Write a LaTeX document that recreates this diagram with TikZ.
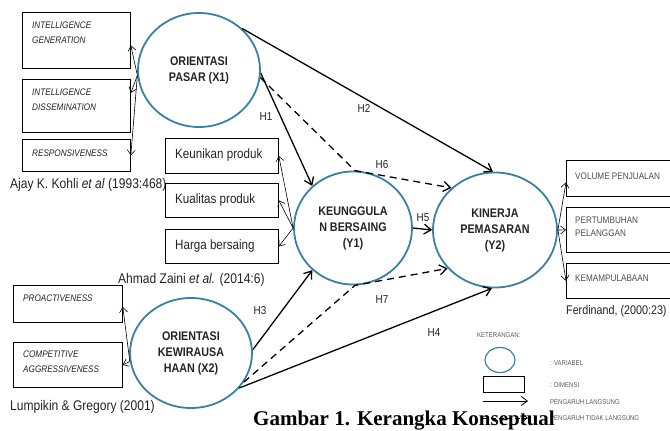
\documentclass[tikz,border=0pt]{standalone}
\usepackage{fontspec}
\setsansfont{Liberation Sans}[FakeStretch=0.86]
\newfontfamily\judulfont{Liberation Serif}
\usetikzlibrary{shapes.geometric,arrows.meta}
\definecolor{lingkar}{RGB}{58,128,160}
\definecolor{tinta}{RGB}{35,35,35}
\tikzset{
  variabel/.style={ellipse,draw=lingkar,line width=1.8pt,inner sep=0pt,align=center,
    text=tinta,font=\sffamily\bfseries\fontsize{12.5}{16}\selectfont},
  dimensi/.style={draw,line width=0.8pt,anchor=north west,inner sep=0pt},
  dimtxt/.style={anchor=west,inner sep=0pt,align=left,text=tinta,
    font=\sffamily\itshape\fontsize{9.5}{15}\selectfont},
  indtxt/.style={anchor=west,inner sep=0pt,align=left,text=tinta,
    font=\sffamily\fontsize{13.5}{15}\selectfont},
  kanantxt/.style={anchor=west,inner sep=0pt,align=left,text=black!70,
    font=\sffamily\fontsize{9.5}{13}\selectfont},
  sumber/.style={anchor=west,inner sep=0pt,text=tinta,font=\sffamily\fontsize{14}{16}\selectfont},
  hipo/.style={inner sep=0pt,text=tinta,font=\sffamily\fontsize{11.5}{13}\selectfont},
  legtxt/.style={anchor=west,inner sep=0pt,text=black!65,font=\sffamily\fontsize{7}{8}\selectfont},
  langsung/.style={line width=1.3pt,-{Straight Barb[length=7pt,width=10pt]}},
  tdklangsung/.style={langsung,dash pattern=on 7pt off 5pt},
  cabang/.style={line width=0.6pt,-{Straight Barb[length=5pt,width=8pt]}},
}
\begin{document}
\begin{tikzpicture}[x=1pt,y=-1pt]
\useasboundingbox (0,0) rectangle (670,431);
\clip (0,0) rectangle (670,431);
% variabel
\node[variabel,minimum width=122pt,minimum height=114pt] (X1) at (199,70) {ORIENTASI\\PASAR (X1)};
\node[variabel,minimum width=122pt,minimum height=110pt] (X2) at (191,353) {ORIENTASI\\KEWIRAUSA\\HAAN (X2)};
\node[variabel,minimum width=118pt,minimum height=113pt] (Y1) at (353,228) {KEUNGGULA\\N BERSAING\\(Y1)};
\node[variabel,minimum width=124pt,minimum height=115pt] (Y2) at (495,230) {KINERJA\\PEMASARAN\\(Y2)};
% dimensi X1
\node[dimensi,minimum width=108pt,minimum height=56pt] (IG) at (22,12) {};
\node[dimtxt] (tIG) at (32,32.5) {INTELLIGENCE\\GENERATION};
\node[dimensi,minimum width=108pt,minimum height=53pt] (ID) at (22,79) {};
\node[dimtxt] (tID) at (32,99.5) {INTELLIGENCE\\DISSEMINATION};
\node[dimensi,minimum width=108pt,minimum height=32pt] (RESP) at (22,139) {};
\node[dimtxt] (tRESP) at (32,153) {RESPONSIVENESS};
\node[sumber] (kohli) at (10,185) {Ajay K. Kohli \textit{et al} (1993:468)};
% dimensi Y1
\node[dimensi,minimum width=113pt,minimum height=35pt] (KP) at (165,138) {};
\node[indtxt] (tKP) at (175,155.5) {Keunikan produk};
\node[dimensi,minimum width=113pt,minimum height=34pt] (QP) at (165,183) {};
\node[indtxt] (tQP) at (175,200) {Kualitas produk};
\node[dimensi,minimum width=113pt,minimum height=34pt] (HB) at (165,229) {};
\node[indtxt] (tHB) at (175,246) {Harga bersaing};
\node[sumber] (zaini) at (118,280) {Ahmad Zaini \textit{et al.} (2014:6)};
% dimensi X2
\node[dimensi,minimum width=109pt,minimum height=37pt] (PRO) at (13,285) {};
\node[dimtxt] (tPRO) at (23,298) {PROACTIVENESS};
\node[dimensi,minimum width=109pt,minimum height=45pt] (COMP) at (13,342) {};
\node[dimtxt] (tCOMP) at (23,362) {COMPETITIVE\\AGGRESSIVENESS};
\node[sumber] (lumpkin) at (10,407) {Lumpikin \& Gregory (2001)};
% dimensi Y2
\node[dimensi,minimum width=112pt,minimum height=36pt] (VOL) at (566,160) {};
\node[kanantxt] (tVOL) at (575,176) {VOLUME PENJUALAN};
\node[dimensi,minimum width=112pt,minimum height=45pt] (PERT) at (566,207) {};
\node[kanantxt] (tPERT) at (575,226.5) {PERTUMBUHAN\\PELANGGAN};
\node[dimensi,minimum width=112pt,minimum height=35pt] (KEM) at (566,263) {};
\node[kanantxt] (tKEM) at (575,278) {KEMAMPULABAAN};
\node[sumber,font=\sffamily\fontsize{12.5}{14}\selectfont] (ferdinand) at (566,311) {Ferdinand, (2000:23)};
% panah dimensi
\draw[cabang] (X1.185) -- ([yshift=-5pt]IG.east);
\draw[cabang] (X1.185) -- ([yshift=13pt]ID.east);
\draw[cabang] (X1.185) -- (RESP.east);
\draw[cabang] (Y1.180) -- (KP.east);
\draw[cabang] (Y1.180) -- (QP.east);
\draw[cabang] (Y1.180) -- (HB.east);
\draw[cabang] (X2.188) -- ([yshift=-3pt]PRO.east);
\draw[cabang] (X2.188) -- (COMP.east);
\draw[cabang] (Y2.east) -- ([yshift=-4pt]VOL.west);
\draw[cabang] (Y2.east) -- (PERT.west);
\draw[cabang] (Y2.east) -- (KEM.west);
% hipotesis
\draw[langsung] (X1.-3) -- (Y1.134);
\draw[langsung] (X1.44) -- (Y2.92);
\draw[tdklangsung] (X1.-7) -- (Y1.88) -- (Y2.136);
\draw[langsung] (X2.3) -- (Y1.226);
\draw[tdklangsung] (X2.-29) -- (Y1.-88) -- (Y2.219);
\draw[langsung] (X2.-36) -- (Y2.267);
\draw[langsung] (Y1.east) -- (Y2.west);
\node[hipo] (h1) at (266,117) {H1};
\node[hipo] (h2) at (364,108) {H2};
\node[hipo] (h3) at (260,311) {H3};
\node[hipo] (h4) at (434,333) {H4};
\node[hipo] (h5) at (423,218) {H5};
\node[hipo] (h6) at (382,165) {H6};
\node[hipo] (h7) at (382,300) {H7};
% keterangan
\node[legtxt] (ket) at (477,335) {KETERANGAN:};
\node[ellipse,draw=lingkar,line width=1.2pt,minimum width=30pt,minimum height=25pt,inner sep=0pt] (lgvar) at (500,360) {};
\node[legtxt] (tvar) at (550,363) {: VARIABEL};
\node[draw,line width=0.9pt,minimum width=41pt,minimum height=16pt,inner sep=0pt] (lgdim) at (503.5,384) {};
\node[legtxt] (tdim) at (550,385) {: DIMENSI};
\coordinate (lgA) at (483,401);
\coordinate (lgB) at (528,401);
\draw[line width=0.8pt,-{Straight Barb[length=6pt,width=9pt]}] (lgA) -- (lgB);
\node[legtxt] (tlgs) at (550,402) {PENGARUH LANGSUNG};
\coordinate (lgC) at (483,418);
\coordinate (lgD) at (528,418);
\draw[line width=0.8pt,dash pattern=on 5pt off 3pt,-{Straight Barb[length=6pt,width=9pt]}] (lgC) -- (lgD);
\node[legtxt] (ttdk) at (550,418) {PENGARUH TIDAK LANGSUNG};
% judul
\node[anchor=base west,inner sep=0pt,font=\judulfont\bfseries\fontsize{21}{24}\selectfont] (judul) at (253,425) {Gambar 1. Kerangka Konseptual};
\end{tikzpicture}
\end{document}
